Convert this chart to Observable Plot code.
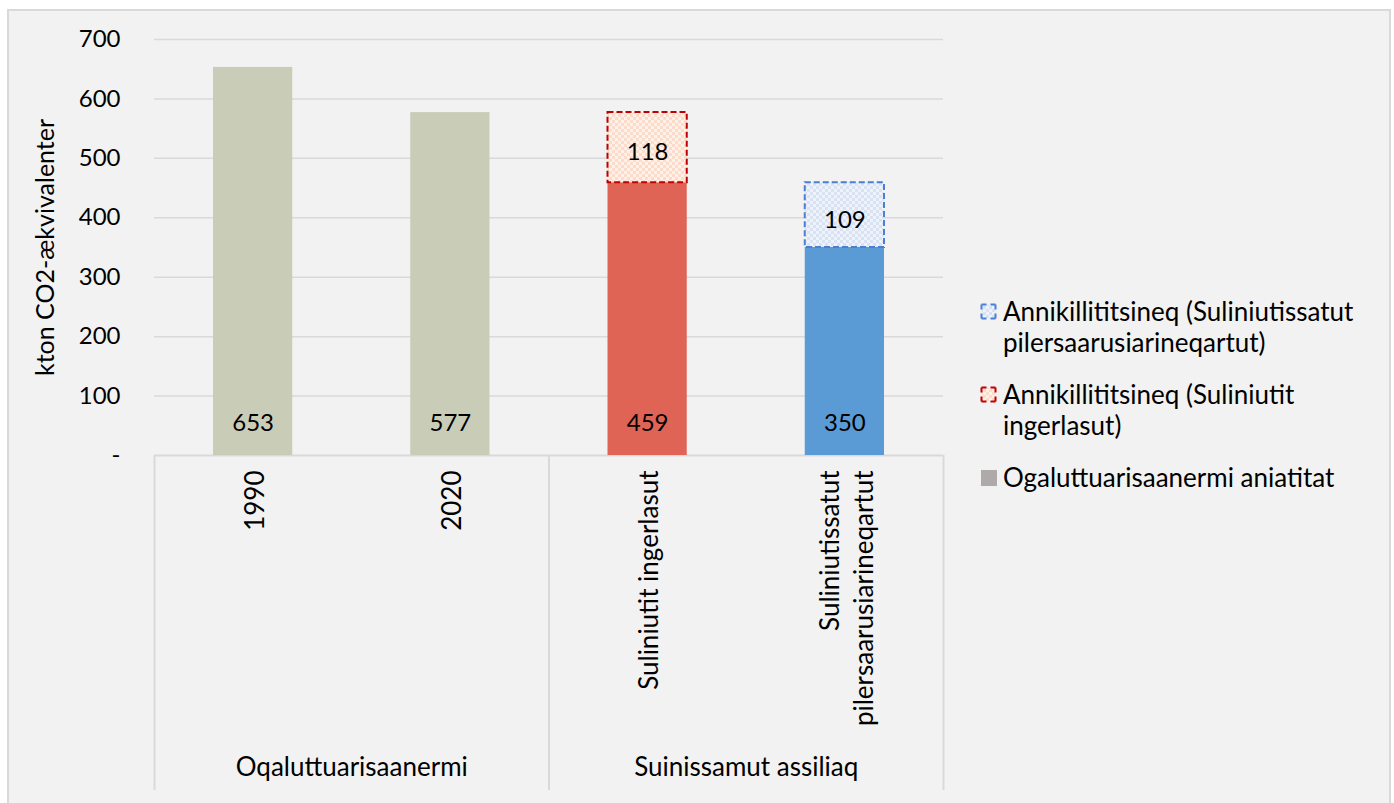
<!DOCTYPE html>
<html>
<head>
<meta charset="utf-8">
<script src="https://cdn.jsdelivr.net/npm/d3@7"></script>
<script src="https://cdn.jsdelivr.net/npm/@observablehq/plot@0.6"></script>
<style>
  html, body { margin: 0; padding: 0; overflow: hidden; background: #ffffff; width: 1394px; height: 803px; }
  #frame { position: absolute; left: 7px; top: 9px; width: 1384px; height: 800px; box-sizing: border-box;
           border: 2px solid #d9d9d9; background: #f2f2f2; }
  #chart { position: absolute; left: 0; top: 0; }
  #legend { position: absolute; left: 980px; top: 296px; font-family: Lato, "Open Sans", sans-serif; font-size: 26px; color: #000; }
  .item { position: relative; padding-left: 23px; line-height: 31px; white-space: pre; margin-bottom: 21px; }
  .item svg { position: absolute; left: 0; top: 7px; }
</style>
</head>
<body>
<div id="frame"></div>
<div id="chart"></div>
<div id="legend"></div>
<script>
// ---- data ----
const categories = ["1990", "2020", "Suliniutit ingerlasut", "Suliniutissatut\npilersaarusiarineqartut"];
const groups = ["Oqaluttuarisaanermi", "Oqaluttuarisaanermi", "Suinissamut assiliaq", "Suinissamut assiliaq"];
const emissions = [653, 577, 459, 350];
const reductions = [null, null, 118, 109];
const yTicks = [0, 100, 200, 300, 400, 500, 600, 700];
const yLabel = "kton CO2-ækvivalenter";
const barColors = ["#c9cdb8", "#c9cdb8", "#e06455", "#5b9bd5"];
const reductionStroke = [null, null, "#c00000", "#4a7fd4"];
const reductionPattern = [null, null, "url(#pRed)", "url(#pBlue)"];
const legendLabels = ["Annikillititsineq (Suliniutissatut\npilersaarusiarineqartut)", "Annikillititsineq (Suliniutit\ningerlasut)", "Ogaluttuarisaanermi aniatitat"];
const legendKinds = ["blue", "red", "solid"];

// ---- derived tables ----
const rows = categories.map((c, i) => ({i, cat: c, group: groups[i], base: emissions[i], red: reductions[i],
  fill: barColors[i], stroke: reductionStroke[i], pattern: reductionPattern[i]}));
const redRows = rows.filter(d => d.red != null);
const groupNames = [...new Set(groups)];
const groupSpans = groupNames.map(g => {
  const idx = groups.map((x, i) => x === g ? i : -1).filter(i => i >= 0);
  return {name: g, start: d3.min(idx), end: d3.max(idx) + 1};
});
const boundaries = [...new Set(groupSpans.flatMap(s => [s.start, s.end]))];

const W = 1394, H = 803;
const mL = 154, mR = 451, mT = 39, mB = 348;
const frameH = H - mT - mB;
const inset = 59;

const plot = Plot.plot({
  width: W, height: H,
  marginLeft: mL, marginRight: mR, marginTop: mT, marginBottom: mB,
  style: {background: "transparent", fontFamily: "Lato, 'Open Sans', sans-serif", fontSize: "24px", color: "#000", overflow: "visible"},
  x: {type: "linear", domain: [0, categories.length], axis: null},
  y: {domain: [0, 700], axis: null},
  color: {type: "identity"},
  marks: [
    Plot.gridY(yTicks.filter(d => d > 0), {stroke: "#d9d9d9", strokeOpacity: 1, strokeWidth: 1.5}),
    Plot.ruleY([0], {stroke: "#d9d9d9", strokeWidth: 2}),
    Plot.ruleX(boundaries, {x: d => d, stroke: "#d9d9d9", strokeWidth: 2, insetTop: frameH, insetBottom: -335}),
    Plot.rectY(rows, {x1: d => d.i, x2: d => d.i + 1, y: "base", fill: "fill", insetLeft: inset, insetRight: inset}),
    Plot.rect(redRows, {x1: d => d.i, x2: d => d.i + 1, y1: "base", y2: d => d.base + d.red,
      fill: "pattern", stroke: "stroke", strokeWidth: 2, strokeDasharray: "6,3", insetLeft: inset, insetRight: inset}),
    Plot.axisY(yTicks, {tickSize: 0, tickPadding: 34, fontSize: 24, label: null,
      tickFormat: d => d === 0 ? "-" : String(d)}),
    Plot.text([yLabel], {text: d => d, frameAnchor: "left", textAnchor: "middle", lineAnchor: "middle",
      rotate: -90, dx: -109, fontSize: 25}),
    Plot.text(rows, {x: d => d.i + 0.5, text: d => String(d.base), frameAnchor: "bottom", dy: -25, fontSize: 24}),
    Plot.text(redRows, {x: d => d.i + 0.5, y: d => d.base + d.red / 2, text: d => String(d.red), dy: 5, fontSize: 24}),
    Plot.text(rows, {x: d => d.i + 0.5, text: "cat", frameAnchor: "bottom", rotate: -90, textAnchor: "end",
      lineAnchor: "middle", lineHeight: 1.3, dy: 15, fontSize: 26}),
    Plot.text(groupSpans, {x: d => (d.start + d.end) / 2, text: "name", frameAnchor: "bottom", dy: 320, fontSize: 26})
  ]
});

// patterns for the reduction segments
const ns = "http://www.w3.org/2000/svg";
const defs = document.createElementNS(ns, "defs");
defs.innerHTML = `
<pattern id="pRed" width="6" height="6" patternUnits="userSpaceOnUse">
  <rect width="6" height="6" fill="#fdf1ea"/>
  <rect width="3" height="3" fill="#fbdccb"/><rect x="3" y="3" width="3" height="3" fill="#fbdccb"/>
</pattern>
<pattern id="pBlue" width="6" height="6" patternUnits="userSpaceOnUse">
  <rect width="6" height="6" fill="#eef2f9"/>
  <rect width="3" height="3" fill="#d9e2f3"/><rect x="3" y="3" width="3" height="3" fill="#d9e2f3"/>
</pattern>`;
plot.insertBefore(defs, plot.firstChild);
document.getElementById("chart").appendChild(plot);

// legend
const legend = document.getElementById("legend");
legendLabels.forEach((lab, k) => {
  const kind = legendKinds[k];
  const div = document.createElement("div");
  div.className = "item";
  let sw;
  if (kind === "solid") {
    sw = `<svg width="17" height="17"><rect x="1" y="1" width="16" height="16" fill="#aeaaaa"/></svg>`;
  } else {
    const st = kind === "red" ? "#c00000" : "#4a7fd4";
    const pf = kind === "red" ? "url(#pRed)" : "url(#pBlue)";
    sw = `<svg width="17" height="17"><rect x="1.5" y="1.5" width="14" height="14" fill="${pf}" stroke="${st}" stroke-width="2" stroke-dasharray="5,4,5,0"/></svg>`;
  }
  div.innerHTML = sw;
  div.appendChild(document.createTextNode(lab));
  legend.appendChild(div);
});
</script>
</body>
</html>
